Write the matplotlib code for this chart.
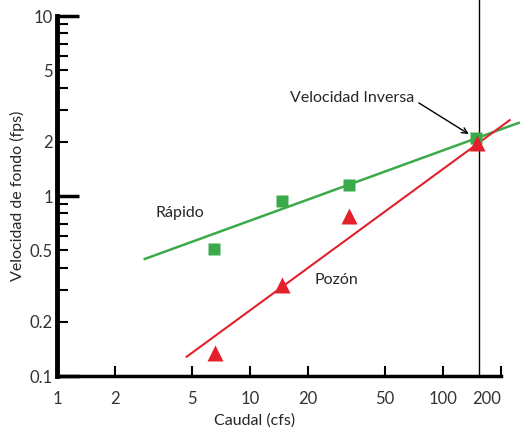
import numpy as np
import matplotlib.pyplot as plt
from matplotlib.ticker import FixedLocator, FixedFormatter, NullLocator

plt.rcParams['font.family'] = ['Lato', 'DejaVu Sans']

# measured points (caudal cfs, velocidad fps)
rapido_q = [6.5, 14.7, 32.7, 148]
rapido_v = [0.51, 0.94, 1.15, 2.10]
pozon_q = [6.6, 14.7, 32.7, 150]
pozon_v = [0.135, 0.32, 0.77, 1.98]

# fitted trend lines (end points)
rapido_fit_q = [2.85, 247]
rapido_fit_v = [0.447, 2.55]
pozon_fit_q = [4.7, 222]
pozon_fit_v = [0.128, 2.64]

q_inversa = 153

x_ticks = [1, 2, 5, 10, 20, 50, 100, 200]
y_major = [0.1, 1, 10]
y_minor = [0.2, 0.3, 0.4, 0.5, 0.6, 0.7, 0.8, 0.9, 2, 3, 4, 5, 6, 7, 8, 9]
y_labels = {0.1: '0.1', 0.2: '0.2', 0.5: '0.5', 1: '1', 2: '2', 5: '5', 10: '10'}

green = '#3aaa4a'
red = '#e3202b'
txt = '#262626'
fs = 11.5

fig = plt.figure(figsize=(5.2, 4.29), dpi=100)
ax = fig.add_axes([0.1096, 0.1235, 0.8539, 0.8392])
ax.set_xscale('log')
ax.set_yscale('log')
ax.set_xlim(1, 200)
ax.set_ylim(0.1, 10)

ax.plot(rapido_fit_q, rapido_fit_v, color=green, lw=1.8, clip_on=False, zorder=2)
ax.plot(pozon_fit_q, pozon_fit_v, color=red, lw=1.5, clip_on=False, zorder=2)
ax.plot(rapido_q, rapido_v, 's', color=green, ms=8.5, mec='none', zorder=3)
ax.plot(pozon_q, pozon_v, '^', color=red, ms=11, mec='none', zorder=3)
ax.axvline(q_inversa, color='black', lw=1.0, ymin=0, ymax=1.05, clip_on=False, zorder=1)

ax.text(4.32, 0.805, 'Rápido', fontsize=fs, ha='center', va='center', color=txt)
ax.text(28, 0.341, 'Pozón', fontsize=fs, ha='center', va='center', color=txt)
ax.text(16.2, 3.5, 'Velocidad Inversa', fontsize=fs, ha='left', va='center', color=txt)
ax.annotate('', xy=(136, 2.21), xytext=(75, 3.29),
            arrowprops=dict(arrowstyle='->', color='black', lw=1.0, shrinkA=0, shrinkB=0))

for s in ['top', 'right']:
    ax.spines[s].set_visible(False)
ax.spines['left'].set_linewidth(3.5)
ax.spines['bottom'].set_linewidth(2.5)

ax.xaxis.set_major_locator(FixedLocator(x_ticks))
ax.xaxis.set_major_formatter(FixedFormatter([str(t) for t in x_ticks]))
ax.xaxis.set_minor_locator(NullLocator())
ax.tick_params(axis='x', direction='in', length=7, width=1.5, labelsize=12, pad=11)
ax.get_xticklines()[0].set_visible(False)

ax.yaxis.set_major_locator(FixedLocator(y_major))
ax.yaxis.set_minor_locator(FixedLocator(y_minor))
ax.yaxis.set_major_formatter(FixedFormatter([y_labels[t] for t in y_major]))
ax.yaxis.set_minor_formatter(FixedFormatter([y_labels.get(t, '') for t in y_minor]))
ax.tick_params(axis='y', which='major', direction='in', length=16, width=2.5, labelsize=12, pad=3)
ax.tick_params(axis='y', which='minor', direction='in', length=8, width=1.5, labelsize=12, pad=3)
for lab in ax.get_yticklabels(minor=True) + ax.get_yticklabels():
    lab.set_color('#333333')
for lab in ax.get_xticklabels():
    lab.set_color('#333333')
ax.get_xticklabels()[-1].set_horizontalalignment('right')

ax.set_xlabel('Caudal (cfs)', fontsize=fs, color=txt)
ax.xaxis.set_label_coords(0.446, -0.105)
ax.set_ylabel('Velocidad de fondo (fps)', fontsize=fs, color=txt)
ax.yaxis.set_label_coords(-0.072, 0.5)

fig.savefig('out.png', dpi=100)
